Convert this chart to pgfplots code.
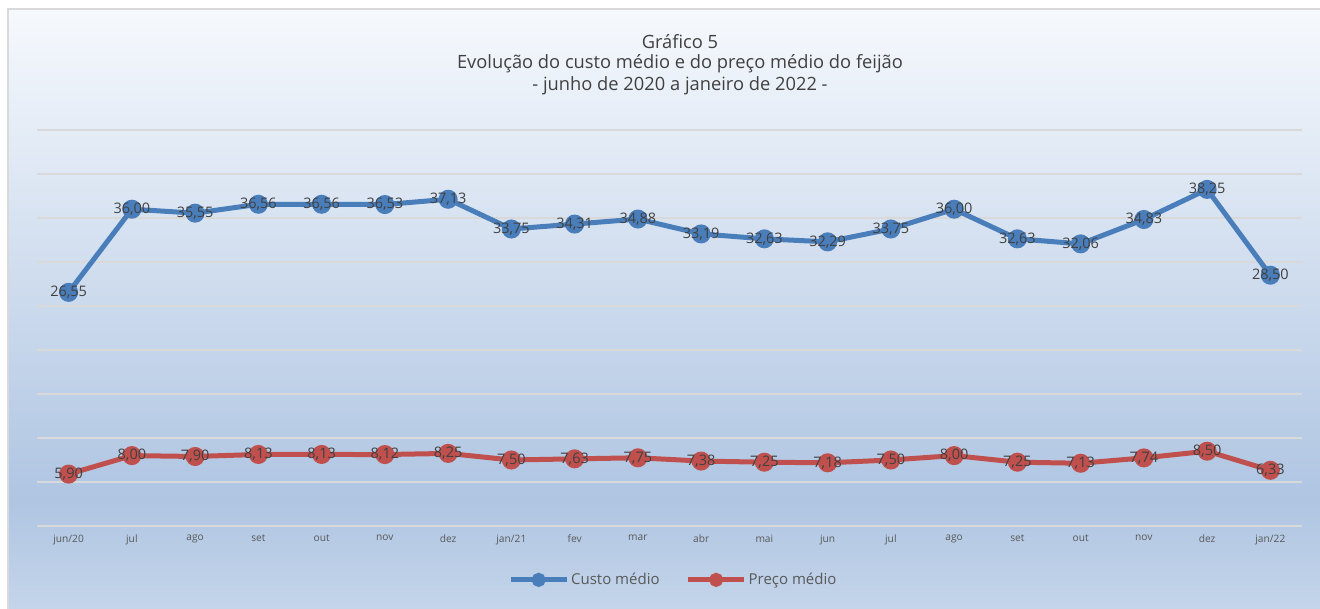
\documentclass[border=0pt]{standalone}
\usepackage{fontspec}
\setmainfont{Open Sans}
\usepackage{pgfplots}
\pgfplotsset{compat=1.18}
\definecolor{bgtop}{HTML}{F6F9FD}
\definecolor{bgmid}{HTML}{AFC5E2}
\definecolor{bgbot}{HTML}{C4D5EA}
\definecolor{gridc}{HTML}{D9D9D9}
\definecolor{blueS}{HTML}{4A7EBB}
\definecolor{redS}{HTML}{C0504D}
\definecolor{txt}{HTML}{404040}
\definecolor{tick}{HTML}{595959}
\begin{document}
\begin{tikzpicture}[x=1pt,y=1pt]
\useasboundingbox (0,0) rectangle (1320,608);
\shade[top color=bgtop, bottom color=bgmid] (8,108) rectangle (1320,599);
\shade[top color=bgmid, bottom color=bgbot] (8,0) rectangle (1320,108.5);
\draw[gridc, line width=1.5pt] (8,-2) -- (8,599) -- (1322,599);
\node[font=\fontsize{18.3}{20}\selectfont, text=txt] at (680,566) {Gráfico 5};
\node[font=\fontsize{18.3}{20}\selectfont, text=txt] at (680,544) {Evolução do custo médio e do preço médio do feijão};
\node[font=\fontsize{18.3}{20}\selectfont, text=txt] at (680,522) {- junho de 2020 a janeiro de 2022 -};
\begin{axis}[
  at={(37pt,82pt)}, anchor=south west,
  scale only axis, width=1265pt, height=396pt,
  xmin=-0.5, xmax=19.5, ymin=0, ymax=45,
  ytick={0,5,...,45}, yticklabels={},
  xtick={0,...,19},
  xticklabels={jun/20,jul,ago,set,out,nov,dez,jan/21,fev,mar,abr,mai,jun,jul,ago,set,out,nov,dez,jan/22},
  xticklabel style={font=\fontsize{10.2}{11}\selectfont, text=tick, yshift=-5pt},
  major tick length=0pt,
  axis line style={draw=none},
  ymajorgrids, major grid style={gridc, line width=1.5pt},
  clip=false,
  /pgf/number format/.cd, fixed, fixed zerofill, precision=2, use comma, assume math mode=true,
  /pgfplots/.cd,
  nodes near coords,
  every node near coord/.append style={anchor=center, font=\fontsize{14.5}{16}\selectfont, text=txt},
  legend columns=2,
  legend style={at={(0.503,-0.136)}, anchor=center, draw=none, fill=none,
    font=\fontsize{15}{17}\selectfont, text=tick, inner sep=0pt,
    /tikz/every even column/.append style={column sep=24pt}},
  legend cell align=left,
  legend image code/.code={\draw[#1] (0pt,0pt) -- (56pt,0pt); \fill[#1] (28pt,0pt) circle (4.5pt);},
]
\addplot[blueS, line width=5pt, mark=*, mark size=7pt, mark options={solid, draw=none}] coordinates {
(0,26.55)(1,36.00)(2,35.55)(3,36.56)(4,36.56)(5,36.53)(6,37.13)(7,33.75)(8,34.31)(9,34.88)
(10,33.19)(11,32.63)(12,32.29)(13,33.75)(14,36.00)(15,32.63)(16,32.06)(17,34.83)(18,38.25)(19,28.50)};
\addlegendentry{Custo médio}
\addplot[redS, line width=5pt, mark=*, mark size=7pt, mark options={solid, draw=none}] coordinates {
(0,5.90)(1,8.00)(2,7.90)(3,8.13)(4,8.13)(5,8.12)(6,8.25)(7,7.50)(8,7.63)(9,7.75)
(10,7.38)(11,7.25)(12,7.18)(13,7.50)(14,8.00)(15,7.25)(16,7.13)(17,7.74)(18,8.50)(19,6.33)};
\addlegendentry{Preço médio}
\end{axis}
\end{tikzpicture}
\end{document}
